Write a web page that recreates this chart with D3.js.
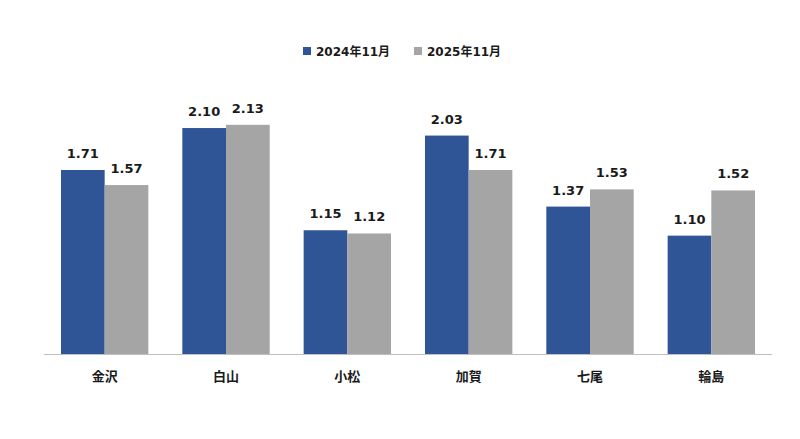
<!DOCTYPE html>
<html><head><meta charset="utf-8">
<script src="https://cdn.jsdelivr.net/npm/d3@7"></script>
<style>body{margin:0;background:#fff;} text{font-family:"DejaVu Sans","Noto Sans CJK JP",sans-serif;font-weight:bold;}</style>
</head><body><svg id="c" width="800" height="439"></svg>
<script>
const categories = ["金沢","白山","小松","加賀","七尾","輪島"];
const seriesNames = ["2024年11月","2025年11月"];
const values2024 = [1.71,2.10,1.15,2.03,1.37,1.10];
const values2025 = [1.57,2.13,1.12,1.71,1.53,1.52];
const colors = ["#2F5597","#A5A5A5"];

const svg = d3.select("#c");
const x0 = d3.scaleBand().domain(categories).range([44,772]).paddingInner(0.28).paddingOuter(0.14);
const x1 = d3.scaleBand().domain([0,1]).range([0,x0.bandwidth()]);
const y = d3.scaleLinear().domain([0,2.5]).range([354,85]);

const series = [values2024, values2025];
series.forEach((vals,si)=>{
  const g = svg.append("g");
  g.selectAll("rect").data(vals).enter().append("rect")
    .attr("x",(d,i)=>x0(categories[i])+x1(si))
    .attr("y",d=>y(d))
    .attr("width",x1.bandwidth())
    .attr("height",d=>y(0)-y(d))
    .attr("fill",colors[si]);
  g.selectAll("text").data(vals).enter().append("text")
    .attr("x",(d,i)=>x0(categories[i])+x1(si)+x1.bandwidth()/2)
    .attr("y",d=>y(d)-12)
    .attr("text-anchor","middle")
    .attr("font-size",13)
    .attr("fill","#1a1a1a")
    .text(d=>d.toFixed(2));
});

svg.append("line").attr("x1",44).attr("x2",772).attr("y1",354.5).attr("y2",354.5)
  .attr("stroke","#BFBFBF").attr("stroke-width",1);

const xAxis = d3.axisBottom(x0).tickSize(0).tickPadding(18);
const ax = svg.append("g").attr("transform","translate(0,354)").call(xAxis);
ax.select(".domain").remove();
ax.selectAll("text").attr("font-size",13).attr("fill","#1a1a1a")
  .style("font-family","'Noto Sans CJK JP',sans-serif").style("font-weight","bold");

const legX = [303,414];
seriesNames.forEach((n,i)=>{
  svg.append("rect").attr("x",legX[i]).attr("y",47).attr("width",8).attr("height",8).attr("fill",colors[i]);
  svg.append("text").attr("x",legX[i]+13).attr("y",56).attr("font-size",12).attr("fill","#1a1a1a").text(n);
});
</script></body></html>
